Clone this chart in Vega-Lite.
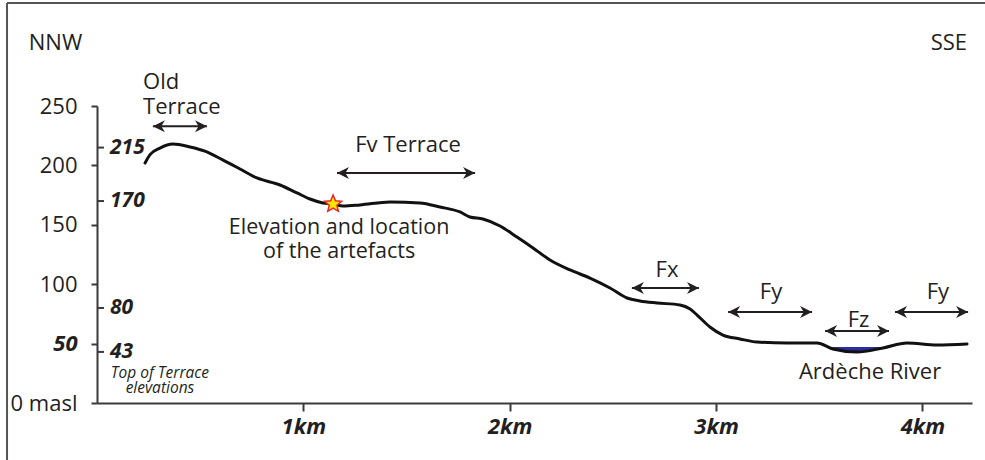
{
  "$schema": "https://vega.github.io/schema/vega-lite/v6.json",
  "width": 875,
  "height": 297,
  "autosize": {"type": "none"},
  "padding": {"left": 97, "top": 106, "right": 13, "bottom": 57},
  "background": "white",
  "config": {
    "view": {"stroke": null},
    "font": "Open Sans",
    "text": {"font": "Open Sans", "color": "#231f20"}
  },
  "datasets": {
    "profile": [
      {"km": 0.233, "elev": 202},
      {"km": 0.257, "elev": 209},
      {"km": 0.305, "elev": 214.6},
      {"km": 0.368, "elev": 218},
      {"km": 0.451, "elev": 215.5},
      {"km": 0.523, "elev": 212},
      {"km": 0.611, "elev": 204.5},
      {"km": 0.693, "elev": 197},
      {"km": 0.775, "elev": 189.4},
      {"km": 0.887, "elev": 183.5},
      {"km": 0.969, "elev": 176.8},
      {"km": 1.032, "elev": 171.7},
      {"km": 1.095, "elev": 168.4},
      {"km": 1.144, "elev": 167.5},
      {"km": 1.192, "elev": 165.8},
      {"km": 1.274, "elev": 166.7},
      {"km": 1.42, "elev": 169.2},
      {"km": 1.565, "elev": 168.4},
      {"km": 1.662, "elev": 165},
      {"km": 1.759, "elev": 160.8},
      {"km": 1.807, "elev": 156.6},
      {"km": 1.87, "elev": 154.9},
      {"km": 1.953, "elev": 149},
      {"km": 2.035, "elev": 139.7},
      {"km": 2.113, "elev": 130.5},
      {"km": 2.195, "elev": 120.4},
      {"km": 2.292, "elev": 112},
      {"km": 2.389, "elev": 105.2},
      {"km": 2.486, "elev": 96.8},
      {"km": 2.568, "elev": 88.4},
      {"km": 2.631, "elev": 85.9},
      {"km": 2.714, "elev": 84.2},
      {"km": 2.825, "elev": 82.5},
      {"km": 2.874, "elev": 79.1},
      {"km": 2.908, "elev": 74},
      {"km": 2.97, "elev": 64},
      {"km": 3.033, "elev": 57.2},
      {"km": 3.116, "elev": 53.9},
      {"km": 3.198, "elev": 51.3},
      {"km": 3.344, "elev": 50.5},
      {"km": 3.489, "elev": 50.5},
      {"km": 3.566, "elev": 45.5},
      {"km": 3.683, "elev": 42.9},
      {"km": 3.809, "elev": 46.3},
      {"km": 3.925, "elev": 50.5},
      {"km": 4.07, "elev": 48.8},
      {"km": 4.216, "elev": 49.7}
    ],
    "river": [
      {"km": 3.53, "bed": 47.2, "water": 47.2},
      {"km": 3.566, "bed": 45.5, "water": 47.2},
      {"km": 3.62, "bed": 43.8, "water": 47.2},
      {"km": 3.683, "bed": 42.9, "water": 47.2},
      {"km": 3.75, "bed": 44.3, "water": 47.2},
      {"km": 3.809, "bed": 46.3, "water": 47.2},
      {"km": 3.83, "bed": 47.2, "water": 47.2}
    ],
    "artefact": [{"km": 1.144, "elev": 167.5}],
    "arrows": [
      {"name": "Old Terrace", "start": 0.271, "end": 0.533, "elev": 233},
      {"name": "Fv Terrace", "start": 1.163, "end": 1.832, "elev": 193.6},
      {"name": "Fx", "start": 2.592, "end": 2.917, "elev": 96.8},
      {"name": "Fy", "start": 3.058, "end": 3.465, "elev": 76.6},
      {"name": "Fz", "start": 3.528, "end": 3.838, "elev": 60.6},
      {"name": "Fy", "start": 3.867, "end": 4.221, "elev": 76.6}
    ],
    "terraceTops": [
      {"elev": 215}, {"elev": 170}, {"elev": 80}, {"elev": 43}
    ],
    "labels": [
      {"km": -0.201, "elev": 303, "text": "NNW"},
      {"km": 4.128, "elev": 303, "text": "SSE"},
      {"km": 1.507, "elev": 217.2, "text": "Fv Terrace"},
      {"km": 2.762, "elev": 112, "text": "Fx"},
      {"km": 3.266, "elev": 93.4, "text": "Fy"},
      {"km": 3.69, "elev": 70, "text": "Fz"},
      {"km": 4.075, "elev": 93.4, "text": "Fy"},
      {"km": 3.746, "elev": 26, "text": "Ardèche River"}
    ],
    "artefactLabel": [
      {"km": 1.173, "elev": 147.3, "text": ["Elevation and location", "of the artefacts"]}
    ],
    "leftLabels": [
      {"km": 0.223, "elev": 270.2, "text": ["Old", "Terrace"]}
    ],
    "notes": [
      {"km": 0.305, "elev": 25.3, "text": ["Top of Terrace", "elevations"]}
    ],
    "frame": [{"left": -0.436, "right": 4.31, "top": 336.7, "bottom": -50}]
  },
  "layer": [
    {
      "data": {"name": "river"},
      "mark": {"type": "area", "color": "#2b2f9e", "interpolate": "monotone"},
      "encoding": {
        "x": {"field": "km", "type": "quantitative", "scale": {"domain": [0, 4.24], "nice": false, "zero": false}},
        "y": {"field": "bed", "type": "quantitative", "scale": {"domain": [0, 250], "nice": false}},
        "y2": {"field": "water"}
      }
    },
    {
      "data": {"name": "profile"},
      "mark": {"type": "line", "color": "#111111", "strokeWidth": 3, "interpolate": "monotone", "strokeCap": "round"},
      "encoding": {
        "x": {
          "field": "km", "type": "quantitative",
          "axis": {
            "title": null, "grid": false, "values": [1, 2, 3, 4],
            "labelExpr": "datum.value + 'km'",
            "labelFont": "Open Sans", "labelFontSize": 22, "labelFontWeight": "bold", "labelFontStyle": "italic",
            "labelColor": "#231f20", "labelPadding": 5,
            "domainColor": "#3a3a3a", "domainWidth": 2, "tickColor": "#3a3a3a", "tickWidth": 2, "tickSize": 8
          }
        },
        "y": {
          "field": "elev", "type": "quantitative",
          "axis": {
            "title": null, "grid": false, "values": [0, 50, 100, 150, 200, 250],
            "labelExpr": "datum.value == 0 ? '0 masl' : datum.label",
            "labelFont": "Open Sans", "labelFontSize": 22,
            "labelFontWeight": {"condition": {"test": "datum.value == 50", "value": "bold"}, "value": "normal"},
            "labelFontStyle": {"condition": {"test": "datum.value == 50", "value": "italic"}, "value": "normal"},
            "labelColor": "#231f20", "labelPadding": 14,
            "domainColor": "#3a3a3a", "domainWidth": 2, "tickColor": "#3a3a3a", "tickWidth": 2, "tickSize": 6
          }
        }
      }
    },
    {
      "data": {"name": "artefact"},
      "mark": {
        "type": "point", "filled": true, "fill": "#ffe600", "stroke": "#e3262b", "strokeWidth": 1.5, "opacity": 1,
        "shape": "M0,-1L0.2645,-0.364L0.951,-0.309L0.428,0.139L0.588,0.809L0,0.45L-0.588,0.809L-0.428,0.139L-0.951,-0.309L-0.2645,-0.364Z",
        "size": 324
      },
      "encoding": {
        "x": {"field": "km", "type": "quantitative"},
        "y": {"field": "elev", "type": "quantitative"}
      }
    },
    {
      "data": {"name": "arrows"},
      "mark": {"type": "rule", "color": "#231f20", "strokeWidth": 2},
      "encoding": {
        "x": {"field": "start", "type": "quantitative"},
        "x2": {"field": "end"},
        "y": {"field": "elev", "type": "quantitative"}
      }
    },
    {
      "data": {"name": "arrows"},
      "mark": {"type": "point", "filled": true, "color": "#231f20", "opacity": 1, "strokeWidth": 0, "shape": "M0,0L2,-1L1.4,0L2,1Z", "size": 144},
      "encoding": {
        "x": {"field": "start", "type": "quantitative"},
        "y": {"field": "elev", "type": "quantitative"}
      }
    },
    {
      "data": {"name": "arrows"},
      "mark": {"type": "point", "filled": true, "color": "#231f20", "opacity": 1, "strokeWidth": 0, "shape": "M0,0L-2,-1L-1.4,0L-2,1Z", "size": 144},
      "encoding": {
        "x": {"field": "end", "type": "quantitative"},
        "y": {"field": "elev", "type": "quantitative"}
      }
    },
    {
      "data": {"name": "terraceTops"},
      "mark": {"type": "rule", "color": "#3a3a3a", "strokeWidth": 2},
      "encoding": {
        "x": {"datum": 0},
        "x2": {"datum": 0.034},
        "y": {"field": "elev", "type": "quantitative"}
      }
    },
    {
      "data": {"name": "terraceTops"},
      "mark": {"type": "text", "align": "left", "baseline": "middle", "fontSize": 21, "fontWeight": "bold", "fontStyle": "italic"},
      "encoding": {
        "x": {"datum": 0.063},
        "y": {"field": "elev", "type": "quantitative"},
        "text": {"field": "elev"}
      }
    },
    {
      "data": {"name": "labels"},
      "mark": {"type": "text", "align": "center", "baseline": "middle", "fontSize": 22},
      "encoding": {
        "x": {"field": "km", "type": "quantitative"},
        "y": {"field": "elev", "type": "quantitative"},
        "text": {"field": "text"}
      }
    },
    {
      "data": {"name": "artefactLabel"},
      "mark": {"type": "text", "align": "center", "baseline": "middle", "fontSize": 21.5, "lineHeight": 23.5},
      "encoding": {
        "x": {"field": "km", "type": "quantitative"},
        "y": {"field": "elev", "type": "quantitative"},
        "text": {"field": "text"}
      }
    },
    {
      "data": {"name": "leftLabels"},
      "mark": {"type": "text", "align": "left", "baseline": "middle", "fontSize": 22, "lineHeight": 25},
      "encoding": {
        "x": {"field": "km", "type": "quantitative"},
        "y": {"field": "elev", "type": "quantitative"},
        "text": {"field": "text"}
      }
    },
    {
      "data": {"name": "notes"},
      "mark": {"type": "text", "align": "center", "baseline": "middle", "fontSize": 15.5, "fontStyle": "italic", "lineHeight": 15.5},
      "encoding": {
        "x": {"field": "km", "type": "quantitative"},
        "y": {"field": "elev", "type": "quantitative"},
        "text": {"field": "text"}
      }
    },
    {
      "data": {"name": "frame"},
      "mark": {"type": "rule", "color": "#555555", "strokeWidth": 2, "clip": false},
      "encoding": {
        "x": {"field": "left", "type": "quantitative"},
        "y": {"field": "top", "type": "quantitative"},
        "y2": {"field": "bottom"}
      }
    },
    {
      "data": {"name": "frame"},
      "mark": {"type": "rule", "color": "#555555", "strokeWidth": 2, "clip": false},
      "encoding": {
        "x": {"field": "left", "type": "quantitative"},
        "x2": {"field": "right"},
        "y": {"field": "top", "type": "quantitative"}
      }
    }
  ]
}
